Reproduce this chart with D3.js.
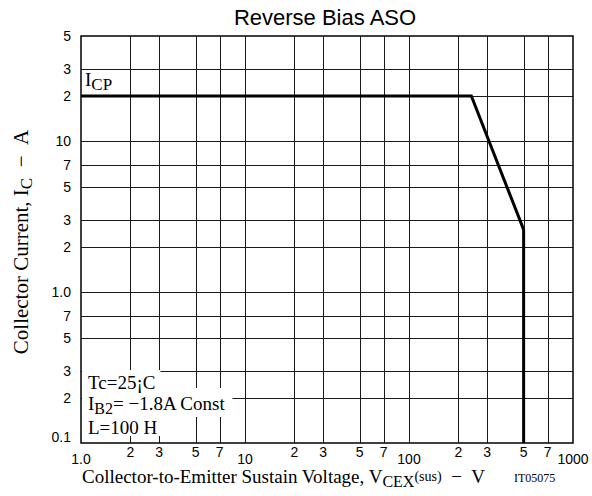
<!DOCTYPE html>
<html>
<head>
<meta charset="utf-8">
<script src="https://cdn.jsdelivr.net/npm/d3@7"></script>
<style>
  html, body { margin: 0; padding: 0; background: #fff; }
  svg { display: block; }
</style>
</head>
<body>
<svg id="chart" width="592" height="496"></svg>
<script>
// ---- data ----
const curveVoltage = [1, 240, 500, 500];      // V_CEX(sus), V
const curveCurrent = [20, 20, 2.6, 0.1];      // I_C, A
const xGridValues = [2, 3, 5, 7, 10, 20, 30, 50, 70, 100, 200, 300, 500, 700];
const yGridValues = [0.2, 0.3, 0.5, 0.7, 1, 2, 3, 5, 7, 10, 20, 30];
const xTickValues = [1, 2, 3, 5, 7, 10, 20, 30, 50, 70, 100, 200, 300, 500, 700, 1000];
const xTickLabels = ["1.0", "2", "3", "5", "7", "10", "2", "3", "5", "7", "100", "2", "3", "5", "7", "1000"];
const yTickValues = [0.1, 0.2, 0.3, 0.5, 0.7, 1, 2, 3, 5, 7, 10, 20, 30, 50];
const yTickLabels = ["0.1", "2", "3", "5", "7", "1.0", "2", "3", "5", "7", "10", "2", "3", "5"];
const titleText = "Reverse Bias ASO";
const conditionLines = [
  [["Tc=25¡C", 0]],
  [["I", 0], ["B2", 1], ["= −1.8A Const", 0]],
  [["L=100 H", 0]]
];

// ---- layout ----
const svg = d3.select("#chart");
const plotL = 81, plotR = 573, plotT = 36, plotB = 443;
const x = d3.scaleLog().domain([1, 1000]).range([plotL, plotR]);
const y = d3.scaleLog().domain([0.1, 50]).range([plotB, plotT]);
const sans = "'Liberation Sans', Arial, sans-serif";
const serif = "'Liberation Serif', 'Times New Roman', serif";
const NB = "\u00a0";

// grid
const grid = svg.append("g").attr("stroke", "#1a1a1a").attr("stroke-width", 1);
grid.selectAll("line.v").data(xGridValues).join("line").attr("class", "v")
  .attr("x1", d => Math.round(x(d)) + 0.5).attr("x2", d => Math.round(x(d)) + 0.5)
  .attr("y1", plotT).attr("y2", plotB);
grid.selectAll("line.h").data(yGridValues).join("line").attr("class", "h")
  .attr("y1", d => Math.round(y(d)) + 0.5).attr("y2", d => Math.round(y(d)) + 0.5)
  .attr("x1", plotL).attr("x2", plotR);

// condition text with white backgrounds (all rects first, then texts)
const rectLayer = svg.append("g");
const textLayer = svg.append("g");
const condBaselines = [389, 410, 434];
const rectTops = [370, 388, 417], rectHeights = [20, 29, 19];
conditionLines.forEach((parts, i) => {
  const t = textLayer.append("text").attr("x", 88).attr("y", condBaselines[i])
    .attr("font-family", serif).attr("font-size", 19).attr("fill", "#000");
  parts.forEach(([s, sub], k) => {
    const ts = t.append("tspan").text(s);
    if (sub) ts.attr("font-size", 16).attr("dy", 4);
    else if (k > 0 && parts[k - 1][1]) ts.attr("dy", -4);
  });
  const bb = t.node().getBBox();
  const pad = i === 1 ? 7 : 5;
  rectLayer.append("rect").attr("fill", "#fff")
    .attr("x", plotL + 1).attr("y", rectTops[i])
    .attr("width", bb.x + bb.width + pad - plotL - 1)
    .attr("height", rectHeights[i]);
});

// frame
svg.append("rect").attr("x", plotL).attr("y", plotT)
  .attr("width", plotR - plotL).attr("height", plotB - plotT)
  .attr("fill", "none").attr("stroke", "#000").attr("stroke-width", 1.5);

// curve
const line = d3.line().x(d => x(d[0])).y(d => y(d[1]));
svg.append("path")
  .datum(d3.zip(curveVoltage, curveCurrent))
  .attr("d", line)
  .attr("fill", "none").attr("stroke", "#000").attr("stroke-width", 3)
  .attr("stroke-linejoin", "miter");

// y tick labels
svg.append("g").selectAll("text").data(yTickValues).join("text")
  .attr("x", 71)
  .attr("y", (d, i) => y(d) + 5 - (i === 0 ? 6 : 0))
  .attr("text-anchor", "end")
  .attr("font-family", sans).attr("font-size", 14).attr("fill", "#000")
  .text((d, i) => yTickLabels[i]);

// x tick labels
const isDecade = v => Math.abs(Math.log10(v) - Math.round(Math.log10(v))) < 1e-9;
svg.append("g").selectAll("text").data(xTickValues).join("text")
  .attr("x", d => x(d))
  .attr("y", d => isDecade(d) ? 464 : 457)
  .attr("text-anchor", "middle")
  .attr("font-family", sans).attr("font-size", 14).attr("fill", "#000")
  .text((d, i) => xTickLabels[i]);

// title
svg.append("text").attr("x", 325).attr("y", 25).attr("text-anchor", "middle")
  .attr("font-family", sans).attr("font-size", 22).attr("fill", "#000")
  .text(titleText);

// I_CP label
const icp = svg.append("text").attr("x", 85).attr("y", 86)
  .attr("font-family", serif).attr("font-size", 19).attr("fill", "#000");
icp.append("tspan").text("I");
icp.append("tspan").attr("font-size", 17).attr("dy", 4).text("CP");

// x axis title
const xt = svg.append("text").attr("x", 82).attr("y", 483)
  .attr("font-family", serif).attr("font-size", 19).attr("fill", "#000");
xt.append("tspan").text("Collector-to-Emitter Sustain Voltage, V");
xt.append("tspan").attr("font-size", 16).attr("dy", 4).text("CEX");
xt.append("tspan").attr("font-size", 14).attr("dy", -6).text("(sus)");
xt.append("tspan").attr("dy", 2).text(NB + NB + "−" + NB + NB + "V");
svg.append("text").attr("x", 514).attr("y", 482)
  .attr("font-family", serif).attr("font-size", 12).attr("fill", "#000")
  .text("IT05075");

// y axis title
const yt = svg.append("text")
  .attr("transform", "translate(28,242) rotate(-90)")
  .attr("text-anchor", "middle")
  .attr("font-family", serif).attr("font-size", 21).attr("fill", "#000");
yt.append("tspan").text("Collector Current, I");
yt.append("tspan").attr("font-size", 17).attr("dy", 4).text("C");
yt.append("tspan").attr("dy", -4).text(NB + NB + "−" + NB + NB + "A");
</script>
</body>
</html>
